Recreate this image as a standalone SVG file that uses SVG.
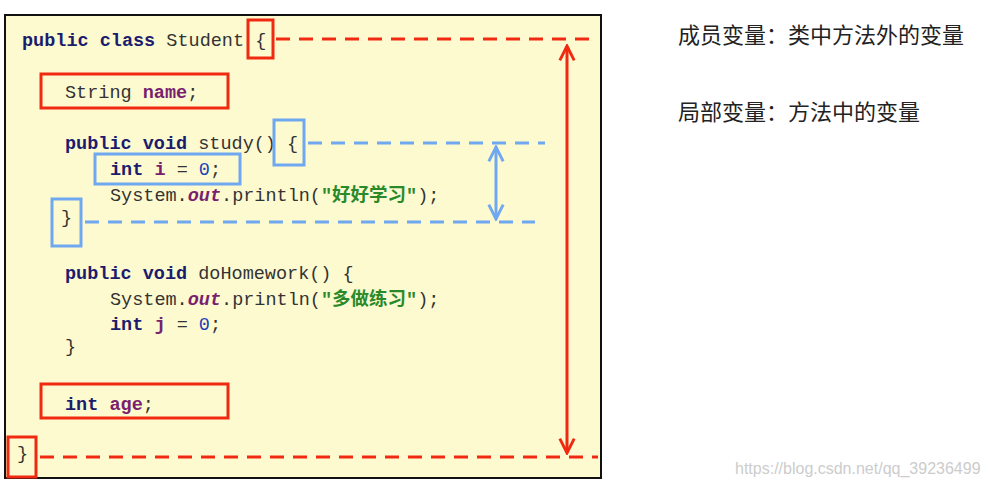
<svg xmlns="http://www.w3.org/2000/svg" width="990" height="487" viewBox="0 0 990 487">
<defs>
<marker id="ar" viewBox="0 0 10 10" refX="9" refY="5" markerWidth="6" markerHeight="6" orient="auto-start-reverse"><path d="M1,1 L9,5 L1,9" fill="none" stroke="context-stroke" stroke-width="1.6"/></marker>
<style>
.c{font-family:"Liberation Mono","Noto Sans CJK SC",monospace;font-size:18.5px;fill:#333}
.k{font-weight:bold;fill:#1c1c6e}
.v{font-weight:bold;fill:#7a1f6e}
.o{font-style:italic;font-weight:bold;fill:#7a1f6e}
.n{fill:#1d3fb8}
.s{fill:#2a8a2a;font-weight:bold}
.rb{fill:none;stroke:#f02a10;stroke-width:3}
.bb{fill:none;stroke:#6fa8f0;stroke-width:3}
.rd{stroke:#f02a10;stroke-width:3;stroke-dasharray:14 9;fill:none}
.bd{stroke:#6fa8f0;stroke-width:3;stroke-dasharray:14 9;fill:none}
.t{font-family:"Noto Sans CJK SC",sans-serif;font-size:22px;fill:#222}
</style>
</defs>
<rect width="990" height="487" fill="#fff"/>
<rect id="panel" x="5" y="15" width="596" height="463" fill="#fdfad0" stroke="#111" stroke-width="2"/>
<g id="code">
<text class="c" x="22" y="46"><tspan class="k">public class</tspan> Student {</text>
<text class="c" x="65" y="98">String <tspan class="v">name</tspan>;</text>
<text class="c" x="65" y="149"><tspan class="k">public void</tspan> study() {</text>
<text class="c" x="110" y="175"><tspan class="k">int</tspan> <tspan class="v">i</tspan> = <tspan class="n">0</tspan>;</text>
<text class="c" x="110" y="201">System.<tspan class="o">out</tspan>.println(<tspan class="s">"好好学习"</tspan>);</text>
<text class="c" x="61" y="223">}</text>
<text class="c" x="65" y="279"><tspan class="k">public void</tspan> doHomework() {</text>
<text class="c" x="110" y="305">System.<tspan class="o">out</tspan>.println(<tspan class="s">"多做练习"</tspan>);</text>
<text class="c" x="110" y="330"><tspan class="k">int</tspan> <tspan class="v">j</tspan> = <tspan class="n">0</tspan>;</text>
<text class="c" x="65" y="352">}</text>
<text class="c" x="65" y="410"><tspan class="k">int</tspan> <tspan class="v">age</tspan>;</text>
<text class="c" x="17" y="459">}</text>
</g>
<g id="boxes">
<rect class="rb" x="248" y="20" width="25" height="38"/>
<rect class="rb" x="41" y="74" width="187" height="34"/>
<rect class="bb" x="274" y="120" width="30" height="45"/>
<rect class="bb" x="95" y="154" width="145" height="30"/>
<rect class="bb" x="52" y="199" width="29" height="47"/>
<rect class="rb" x="41" y="384" width="187" height="34"/>
<rect class="rb" x="8" y="437" width="28" height="40"/>
</g>
<g id="connectors">
<line class="rd" x1="276" y1="39" x2="598" y2="39"/>
<line class="rd" x1="40" y1="457" x2="598" y2="457"/>
<line x1="567" y1="46" x2="567" y2="453" stroke="#f02a10" stroke-width="3" marker-start="url(#ar)" marker-end="url(#ar)"/>
<line class="bd" x1="308" y1="143" x2="545" y2="143"/>
<line class="bd" x1="85" y1="222" x2="535" y2="222"/>
<line x1="496" y1="147" x2="496" y2="219" stroke="#6fa8f0" stroke-width="3" marker-start="url(#ar)" marker-end="url(#ar)"/>
</g>
<g id="notes">
<text class="t" x="678" y="43">成员变量：类中方法外的变量</text>
<text class="t" x="678" y="120">局部变量：方法中的变量</text>
<text x="735" y="474" font-family="Liberation Sans,sans-serif" font-size="16" fill="#ccc">https://blog.csdn.net/qq_39236499</text>
</g>
</svg>
